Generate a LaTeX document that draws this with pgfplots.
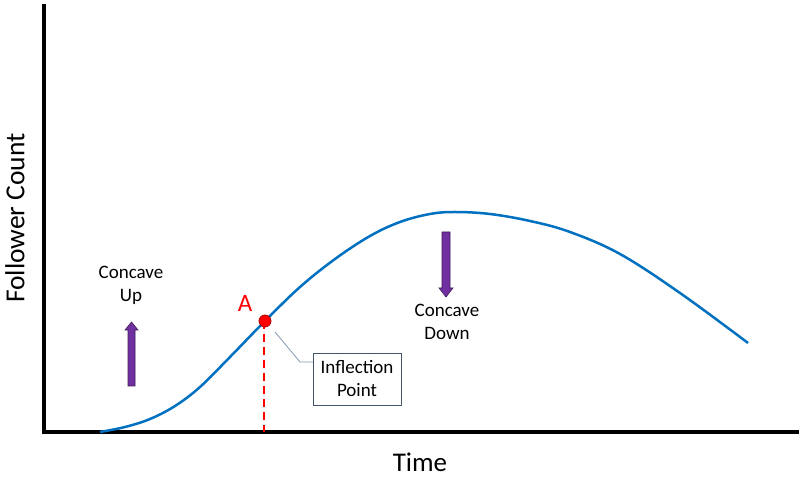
\documentclass[border=0pt]{standalone}
\usepackage{pgfplots}
\pgfplotsset{compat=1.18}
\usepackage{fontspec}
\setmainfont{Carlito}
\definecolor{curveblue}{HTML}{0070C0}
\definecolor{arrpurple}{HTML}{7030A0}
\definecolor{arrborder}{HTML}{3F1A5C}
\definecolor{boxedge}{HTML}{44546A}
\definecolor{connector}{HTML}{8497B0}
\begin{document}
\begin{tikzpicture}
\begin{axis}[
  x=1pt, y=1pt,
  xmin=44, xmax=800, ymin=0, ymax=427,
  hide axis, clip=false,
]
% bounding box helper
\path (axis cs:0,-44) rectangle (axis cs:802,432);
% axes
\draw[line width=4pt, line join=miter] (axis cs:44,428) -- (axis cs:44,0) -- (axis cs:799,0);
% curve
\addplot[curveblue, line width=2.5pt, smooth, tension=0.6] coordinates {
(100,0) (125,5) (150,13) (175,26) (200,45) (230,75) (265,111) (300,145)
(335,173) (370,196) (400,210) (430,218) (455,220) (490,218) (530,211)
(570,200) (620,178) (680,139) (748,89)};
% dashed line
\addplot[red, line width=2pt, dash pattern=on 8pt off 5pt] coordinates {(264,111) (264,0)};
% inflection point
\addplot[only marks, mark=*, mark size=6pt, mark options={fill=red, draw=red!70!black, line width=0.8pt}] coordinates {(265,111)};
% arrows
\filldraw[fill=arrpurple, draw=arrborder, line width=0.6pt]
 (axis cs:128,46) -- (axis cs:135,46) -- (axis cs:135,102) -- (axis cs:138,102)
 -- (axis cs:131.5,110) -- (axis cs:125,102) -- (axis cs:128,102) -- cycle;
\filldraw[fill=arrpurple, draw=arrborder, line width=0.6pt]
 (axis cs:442,200) -- (axis cs:450,200) -- (axis cs:450,144) -- (axis cs:453,144)
 -- (axis cs:446,135) -- (axis cs:439,144) -- (axis cs:442,144) -- cycle;
% connector
\draw[connector, line width=0.8pt] (axis cs:275,100) -- (axis cs:300,70) -- (axis cs:313,70);
% box
\node[draw=boxedge, line width=0.8pt, fill=white, minimum width=88pt, minimum height=52pt,
  align=center, inner sep=0pt, font=\fontsize{19}{23}\selectfont] at (axis cs:357,53) {Inflection\\Point};
% texts
\node[align=center, inner sep=0pt, font=\fontsize{19}{23}\selectfont] at (axis cs:131,146.5) {Concave\\Up};
\node[align=center, inner sep=0pt, font=\fontsize{19}{23}\selectfont] at (axis cs:447,110.5) {Concave\\Down};
\node[red, inner sep=0pt, font=\fontsize{25}{30}\selectfont] at (axis cs:245,129) {A};
\node[inner sep=0pt, font=\fontsize{27}{32}\selectfont] at (axis cs:420,-30) {Time};
\node[rotate=90, inner sep=0pt, font=\fontsize{27.5}{32}\selectfont] at (axis cs:15,214) {Follower Count};
\end{axis}
\end{tikzpicture}
\end{document}
